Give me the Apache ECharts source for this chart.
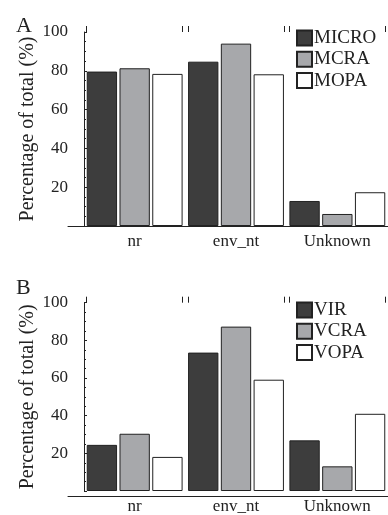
<!DOCTYPE html>
<html><head><meta charset="utf-8">
<script src="https://cdn.jsdelivr.net/npm/echarts@6/dist/echarts.min.js"></script>
<style>html,body{margin:0;padding:0;background:#fff}#c{width:388px;height:515px}</style>
</head><body><div id="c"></div>
<script>
const categories = ['nr', 'env_nt', 'Unknown'];
const yTicks = [20, 40, 60, 80, 100];
const namesA = ['MICRO', 'MCRA', 'MOPA'];
const namesB = ['VIR', 'VCRA', 'VOPA'];
const micro = [79.6, 84.7, 12.9];
const mcra  = [81.3, 94.0, 6.2];
const mopa  = [78.4, 78.2, 17.4];
const vir   = [24.5, 73.5, 26.9];
const vcra  = [30.4, 87.3, 13.1];
const vopa  = [18.1, 59.1, 41.0];

const FONT = 'Liberation Serif';
const INK = '#222';
const fills = ['#3d3d3d', '#a7a8ab', '#ffffff'];
const catGapPct = 5.4;
const edge = catGapPct / 200;
const bracketTicks = [];
categories.forEach((c, i) => { bracketTicks.push(i + edge, i + 1 - edge); });

const panels = [
  { letter: 'A', top: 32, height: 194, names: namesA, data: [micro, mcra, mopa], legendTop: 28.5, letterTop: 10 },
  { letter: 'B', top: 302.7, height: 193.3, names: namesB, data: [vir, vcra, vopa], legendTop: 300.5, letterTop: 272 }
];

const grid = [], xAxis = [], yAxis = [], series = [], legend = [], title = [];
panels.forEach((p, k) => {
  const g = grid.length;
  grid.push({ left: 84, right: -3.5, top: p.top, height: p.height });
  grid.push({ left: 68, right: -3.5, top: p.top, height: p.height });
  const xc = xAxis.length;
  xAxis.push({ type: 'category', gridIndex: g, data: categories,
    axisLine: { show: false }, axisTick: { show: false },
    axisLabel: { color: INK, fontFamily: FONT, fontSize: 17, margin: 7 } });
  xAxis.push({ type: 'value', gridIndex: g, min: 0, max: categories.length,
    axisLine: { show: false }, splitLine: { show: false }, axisLabel: { show: false },
    axisTick: { show: true, customValues: bracketTicks, length: 6, lineStyle: { color: INK, width: 1 } } });
  xAxis.push({ type: 'value', gridIndex: g + 1, min: 0, max: 1,
    axisLine: { show: true, lineStyle: { color: INK, width: 1 } }, splitLine: { show: false },
    axisLabel: { show: false }, axisTick: { show: false } });
  const yi = yAxis.length;
  yAxis.push({ type: 'value', gridIndex: g, min: 0, max: 100, interval: 20, offset: 9,
    axisLine: { show: true, lineStyle: { color: INK, width: 1 } },
    axisTick: { show: true, inside: true, length: 3, lineStyle: { color: INK } },
    minorTick: { show: true, splitNumber: 4, length: 2, lineStyle: { color: INK } },
    splitLine: { show: false },
    axisLabel: { color: INK, fontFamily: FONT, fontSize: 17, margin: 7,
      formatter: v => yTicks.includes(v) ? String(v) : '' },
    name: 'Percentage of total (%)', nameLocation: 'middle', nameGap: 37, nameMoveOverlap: false,
    nameTextStyle: { color: INK, fontFamily: FONT, fontSize: 20 } });
  yAxis.push({ type: 'value', gridIndex: g + 1, show: false, min: 0, max: 100 });
  p.names.forEach((n, j) => {
    series.push({ type: 'bar', name: n, xAxisIndex: xc, yAxisIndex: yi, data: p.data[j],
      barCategoryGap: catGapPct + '%', barGap: '8%',
      itemStyle: { color: fills[j], borderColor: INK, borderWidth: 1 } });
  });
  legend.push({ data: p.names, orient: 'vertical', left: 296, top: p.legendTop, padding: 0,
    itemWidth: 15, itemHeight: 15, itemGap: 2.3, icon: 'rect',
    textStyle: { color: INK, fontFamily: FONT, fontSize: 19, padding: [0, 0, 0, -3] } });
  title.push({ text: p.letter, left: 11, top: p.letterTop,
    textStyle: { color: INK, fontFamily: FONT, fontSize: 22, fontWeight: 'normal' } });
});

const chart = echarts.init(document.getElementById('c'), null, { renderer: 'canvas' });
chart.setOption({ animation: false, backgroundColor: '#fff', title, grid, xAxis, yAxis, legend, series });
</script></body></html>
